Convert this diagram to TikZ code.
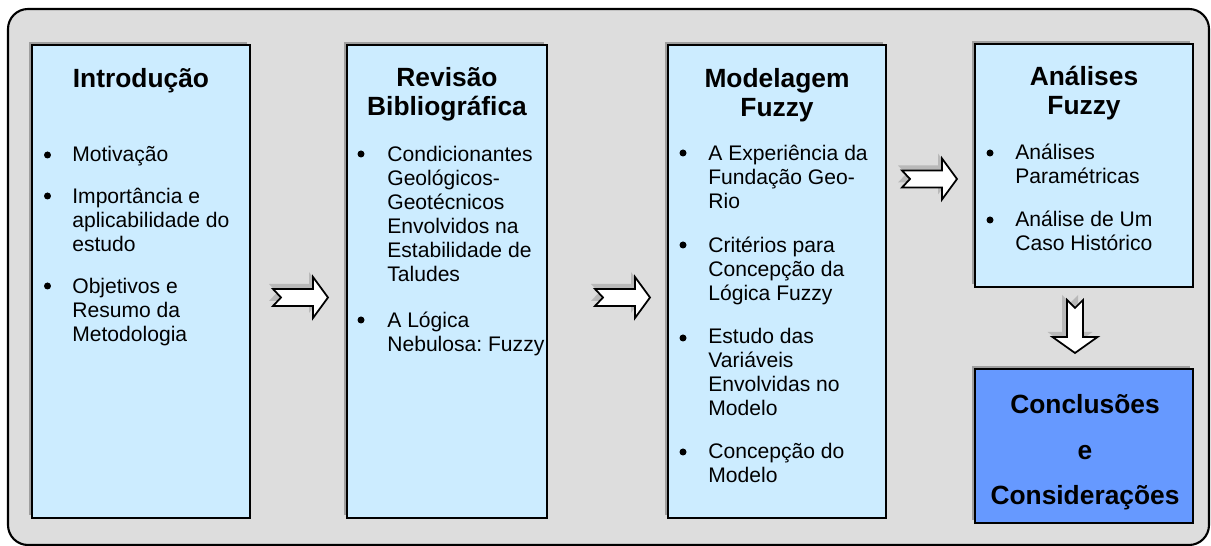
\documentclass[tikz,border=0pt]{standalone}
\usepackage{fontspec}
\setmainfont{Liberation Sans}
\usetikzlibrary{shadows}
\frenchspacing

\definecolor{panelgray}{HTML}{DDDDDD}
\definecolor{paleblue}{HTML}{CCECFF}
\definecolor{strongblue}{HTML}{6699FF}

\tikzset{
  box/.style ={draw, line width=1pt, fill=paleblue,
    general shadow={fill=gray!75, shadow xshift=-0.06cm, shadow yshift=0.06cm}},
  chapter/.style ={anchor=base, align=center, inner sep=0pt,
    font=\fontsize{15}{16.7}\selectfont\bfseries},
  topic/.style ={anchor=base west, align=left, inner sep=0pt,
    font=\fontsize{12}{13.7}\selectfont},
  dot/.style ={circle, fill=black, inner sep=0pt, minimum size=0.14cm},
  fwdarrow/.pic ={
    \fill[gray!55] (-4,-13.5) -- (36,-13.5) -- (36,-25.5) -- (51,-5) -- (36,15.5)
      -- (36,3.5) -- (-4,3.5) -- (4,-5) -- cycle;
    \draw[fill=white, line width=1pt, line join=miter] (0,-8.5) -- (40,-8.5) -- (40,-20.5)
      -- (55,0) -- (40,20.5) -- (40,8.5) -- (0,8.5) -- (8,0) -- cycle;
  },
  downarrow/.pic ={
    \fill[gray!55] (-13,-5) -- (-13,32) -- (-27.5,32) -- (-5,48) -- (17.5,32)
      -- (3,32) -- (3,-5) -- (-5,3) -- cycle;
    \draw[fill=white, line width=1pt, line join=miter] (-8,0) -- (-8,37) -- (-22.5,37)
      -- (0,53) -- (22.5,37) -- (8,37) -- (8,0) -- (0,8) -- cycle;
  }
}

\begin{document}
\begin{tikzpicture}[x=0.02cm, y=-0.02cm]
   \useasboundingbox (0,0) rectangle (1211,546);
   \draw[fill=panelgray, line width=1.2pt, rounded corners=0.4cm] (8,9) rectangle (1209,545);

   % boxes
   \node[box, minimum width=4.36cm, minimum height=9.46cm] (intro) at (141,281.5) {};
   \node[box, minimum width=4.00cm, minimum height=9.46cm] (revisao) at (447,281.5) {};
   \node[box, minimum width=4.36cm, minimum height=9.46cm] (modelagem) at (777,281.5) {};
   \node[box, minimum width=4.36cm, minimum height=4.86cm] (analises) at (1084,165.5) {};
   \node[box, fill=strongblue, minimum width=4.36cm, minimum height=3.08cm] (conclusoes) at (1084,446) {};

   % titles (placed by the baseline of their last line)
   \node[chapter] (tIntro) at (141,88) {Introdução};
   \node[chapter] (tRevisao) at (447,116) {Revisão\\Bibliográfica};
   \node[chapter] (tModelagem) at (777,116.5) {Modelagem\\Fuzzy};
   \node[chapter] (tAnalises) at (1084,114.5) {Análises\\Fuzzy};
   \node[chapter, font=\fontsize{15}{26}\selectfont\bfseries] (tConclusoes) at (1085,505)
      {Conclusões\\e\\Considerações};

   % Introducao
   \node[dot] (d1a) at (47.5,155) {};
   \node[topic] (i1a) at (72,162) {Motivação};
   \node[dot] (d1b) at (47.5,196) {};
   \node[topic] (i1b) at (72,251.5) {Importância e\\aplicabilidade do\\estudo};
   \node[dot] (d1c) at (47.5,286) {};
   \node[topic] (i1c) at (72,341.5) {Objetivos e\\Resumo da\\Metodologia};

   % Revisao
   \node[dot] (d2a) at (361,154) {};
   \node[topic] (i2a) at (387,282) {Condicionantes\\Geológicos-\\Geotécnicos\\Envolvidos na\\Estabilidade de\\Taludes};
   \node[dot] (d2b) at (361,320) {};
   \node[topic] (i2b) at (387,351.5) {A Lógica\\Nebulosa: Fuzzy};

   % Modelagem
   \node[dot] (d3a) at (683,153) {};
   \node[topic] (i3a) at (708,209) {A Experiência da\\Fundação Geo-\\Rio};
   \node[dot] (d3b) at (683,245) {};
   \node[topic] (i3b) at (708,300.5) {Critérios para\\Concepção da\\Lógica Fuzzy};
   \node[dot] (d3c) at (683,338) {};
   \node[topic] (i3c) at (708,416) {Estudo das\\Variáveis\\Envolvidas no\\Modelo};
   \node[dot] (d3d) at (683,452) {};
   \node[topic] (i3d) at (708,483) {Concepção do\\Modelo};

   % Analises
   \node[dot] (d4a) at (990,153) {};
   \node[topic] (i4a) at (1015,184) {Análises\\Paramétricas};
   \node[dot] (d4b) at (990,220) {};
   \node[topic] (i4b) at (1015,251) {Análise de Um\\Caso Histórico};

   % block arrows
   \pic at (273,297.5) {fwdarrow};
   \pic at (595,297.5) {fwdarrow};
   \pic at (902,179) {fwdarrow};
   \pic at (1075,300) {downarrow};
\end{tikzpicture}
\end{document}
